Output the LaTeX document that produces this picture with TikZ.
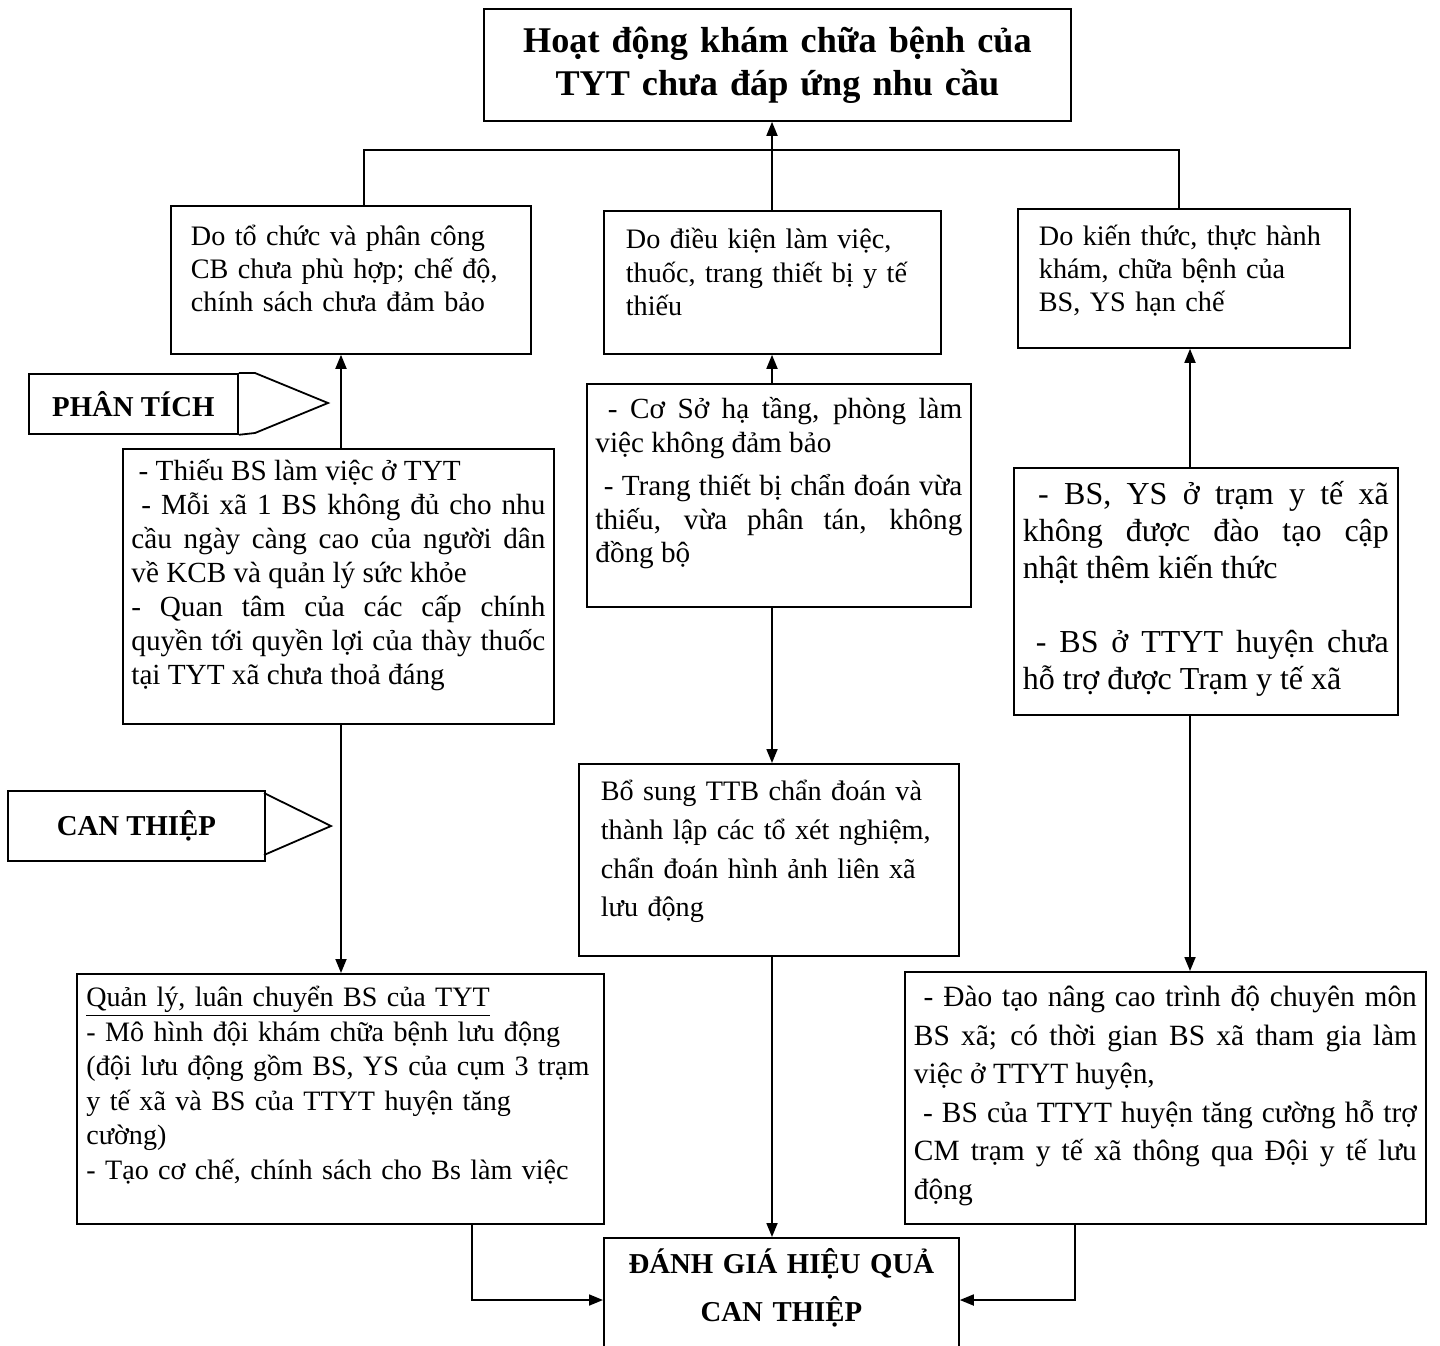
\documentclass[tikz,border=0pt]{standalone}
\usepackage{fontspec}
\setmainfont{Liberation Serif}
\usetikzlibrary{arrows.meta}
\tolerance=10000
\hbadness=10000

\begin{document}
\begin{tikzpicture}
[x=0.5pt,y=-0.5pt,
  boxdecorate/.style={draw,line width=0.9pt,anchor=north west,inner ysep=0pt,inner xsep=4.5pt,%
    font=\fontsize{14.6}{17}\selectfont},%
  tagdecorate/.style={draw,line width=0.9pt,inner sep=0pt,anchor=north west,%
    font=\bfseries\fontsize{14.4}{17}\selectfont},%
  linedecorate/.style={-,line width=0.9pt,line join=miter},%
  arrowdecorate/.style={line width=0.9pt,-{Triangle[length=7pt,width=5.5pt]}}]
\useasboundingbox (0,0) rectangle (1440,1345);
\clip (0,0) rectangle (1440,1345);
%% title
\node[boxdecorate,inner xsep=0pt,text width=293.5pt,text height=22pt,text depth=34pt,align=center,
  font=\bfseries\fontsize{18.1}{21.5}\selectfont] (title) at (483,8)
  {Hoạt động khám chữa bệnh của\\TYT chưa đáp ứng nhu cầu};
%% causes
\node[boxdecorate,inner xsep=10pt,text width=160pt,text height=20pt,text depth=54pt,align=left,
  font=\fontsize{14.1}{16.5}\selectfont] (causeA) at (170,205)
  {Do tổ chức và phân công\\CB chưa phù hợp; chế độ,\\chính sách chưa đảm bảo};
\node[boxdecorate,inner xsep=11pt,text width=146.5pt,text height=19pt,text depth=52.5pt,align=left,
  font=\fontsize{14.1}{16.75}\selectfont] (causeB) at (603,210)
  {Do điều kiện làm việc,\\thuốc, trang thiết bị y tế\\thiếu};
\node[boxdecorate,inner xsep=8pt,text width=150pt,text height=18.5pt,text depth=51pt,align=left,
  font=\fontsize{14.1}{16.5}\selectfont] (causeC) at (1017,208)
  {\hspace*{2.5pt}Do kiến thức, thực hành\\\hspace*{2.5pt}khám, chữa bệnh của\\\hspace*{2.5pt}BS, YS hạn chế};
%% analysis
\node[tagdecorate,minimum width=104.5pt,minimum height=30pt] (analysis) at (28,373) {PHÂN TÍCH};
\draw[linedecorate] (analysis.north east) -- (255,373) -- (328,403) -- (255,433) -- (analysis.south east);
\node[boxdecorate,inner xsep=4.25pt,text width=207pt,text height=16pt,text depth=121.5pt,align=justify,
  font=\fontsize{14.6}{17}\selectfont] (factorsA) at (122,448)
  {\ - Thiếu BS làm việc ở TYT\par
   \ - Mỗi xã 1 BS không đủ cho nhu\linebreak cầu ngày càng cao của người dân\linebreak
   về KCB và quản lý sức khỏe\par
   - Quan tâm của các cấp chính\linebreak quyền tới quyền lợi của thày thuốc\linebreak
   tại TYT xã chưa thoả đáng};
\node[boxdecorate,inner xsep=4.25pt,text width=183.5pt,text height=17.5pt,text depth=94pt,align=justify,
  font=\fontsize{14.6}{16.75}\selectfont] (factorsB) at (586,383)
  {\ - Cơ Sở hạ tầng, phòng làm\linebreak việc không đảm bảo\par\vspace{5pt}
   \ - Trang thiết bị chẩn đoán vừa\linebreak thiếu, vừa phân tán, không\linebreak đồng bộ};
\node[boxdecorate,inner xsep=4.5pt,text width=183pt,text height=18.5pt,text depth=105pt,align=justify,
  font=\fontsize{16}{18.5}\selectfont] (factorsC) at (1013,467)
  {\ - BS, YS ở trạm y tế xã\linebreak không được đào tạo cập\linebreak nhật thêm kiến thức\par\vspace{18.5pt}
   \ - BS ở TTYT huyện chưa\linebreak hỗ trợ được Trạm y tế xã};
%% intervention
\node[tagdecorate,minimum width=128.5pt,minimum height=35pt] (intervention) at (7,790) {CAN THIỆP};
\draw[linedecorate] (264,793) -- (331,826) -- (264,855);
\node[boxdecorate,inner xsep=2.75pt,text width=258pt,text height=16.5pt,text depth=108.5pt,align=left,
  font=\fontsize{14.05}{17.25}\selectfont] (actionA) at (76,973)
  {\hspace*{2pt}\underline{Quản lý, luân chuyển BS của TYT}\\\hspace*{2pt}- Mô hình đội khám chữa bệnh lưu động\\
   \hspace*{2pt}(đội lưu động gồm BS, YS của cụm 3 trạm\\\hspace*{2pt}y tế xã và BS của TTYT huyện tăng\\
   \hspace*{2pt}cường)\\\hspace*{2pt}- Tạo cơ chế, chính sách cho Bs làm việc};
\node[boxdecorate,inner xsep=9pt,text width=172pt,text height=18.5pt,text depth=77.5pt,align=left,
  font=\fontsize{14.1}{19.3}\selectfont] (actionB) at (578,763)
  {\hspace*{2pt}Bổ sung TTB chẩn đoán và\\\hspace*{2pt}thành lập các tổ xét nghiệm,\\
   \hspace*{2pt}chẩn đoán hình ảnh liên xã\\\hspace*{2pt}lưu động};
\node[boxdecorate,inner xsep=4.5pt,text width=251.5pt,text height=17.5pt,text depth=108.5pt,align=justify,
  font=\fontsize{14.7}{19.25}\selectfont] (actionC) at (904,971)
  {\ - Đào tạo nâng cao trình độ chuyên môn\linebreak BS xã; có thời gian BS xã tham gia làm\linebreak
   việc ở TTYT huyện,\par
   \ - BS của TTYT huyện tăng cường hỗ trợ\linebreak CM trạm y tế xã thông qua Đội y tế lưu\linebreak động};
%% evaluation
\node[boxdecorate,inner xsep=0pt,text width=177.5pt,text height=18pt,text depth=43.5pt,align=center,
  font=\bfseries\fontsize{14.4}{24}\selectfont] (evaluation) at (603,1237)
  {ĐÁNH GIÁ HIỆU QUẢ\\CAN THIỆP};
%% connectors
\coordinate (spineA) at (341,0);
\coordinate (spineB) at (772,0);
\coordinate (spineC) at (1190,0);
\coordinate (busL) at (364,150);
\coordinate (busR) at (1179,150);
\coordinate (joinA) at (472,1300);
\coordinate (joinC) at (1075,1300);
\draw[linedecorate] (busL |- causeA.north) -- (busL) -- (busR) -- (busR |- causeC.north);
\draw[arrowdecorate] (spineB |- causeB.north) -- (spineB |- title.south);
\foreach \spine/\lower/\upper in {spineA/factorsA/causeA, spineB/factorsB/causeB, spineC/factorsC/causeC}
{
  \draw[arrowdecorate] (\spine |- \lower.north) -- (\spine |- \upper.south);
}
\foreach \spine/\upper/\lower in {spineA/factorsA/actionA, spineB/factorsB/actionB,
  spineC/factorsC/actionC, spineB/actionB/evaluation}
{
  \draw[arrowdecorate] (\spine |- \upper.south) -- (\spine |- \lower.north);
}
\draw[arrowdecorate] (joinA |- actionA.south) |- (evaluation.west |- joinA);
\draw[arrowdecorate] (joinC |- actionC.south) |- (evaluation.east |- joinC);
\end{tikzpicture}
\end{document}
